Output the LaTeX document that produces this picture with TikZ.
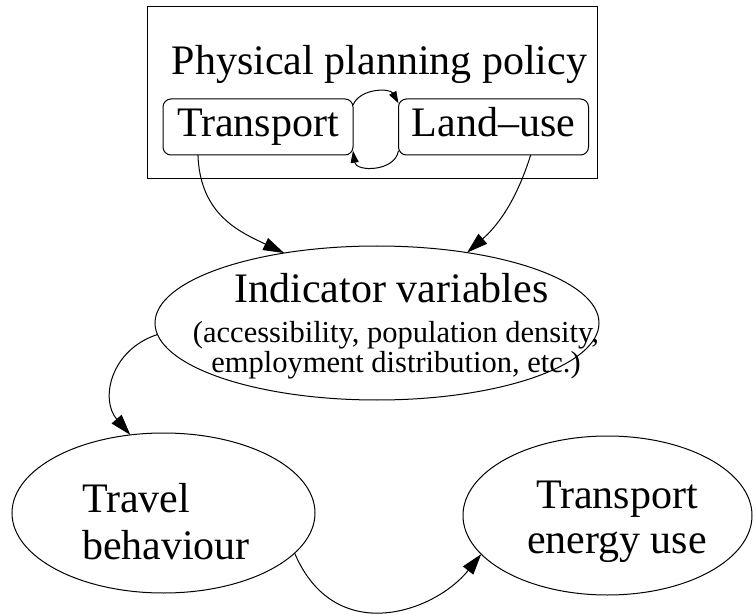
\documentclass[tikz,border=0pt]{standalone}
\usepackage{fontspec}
\setmainfont{Liberation Serif}
\usetikzlibrary{arrows.meta,shapes.geometric}
\begin{document}
\begin{tikzpicture}[x=1pt,y=-1pt,
  every node/.style={inner sep=0pt, outer sep=0pt},
  frame/.style={draw, line width=1pt, minimum width=450pt, minimum height=172pt},
  policybox/.style={draw, line width=1pt, rounded corners=8pt, minimum width=190pt, minimum height=56pt, text height=29pt, text depth=9pt, font=\fontsize{42}{47}\selectfont},
  oval/.style={draw, ellipse, line width=1pt},
  bigtext/.style={font=\fontsize{42}{47}\selectfont},
  smalltext/.style={font=\fontsize{30.5}{30}\selectfont},
  conn/.style={line width=1pt, -{Triangle[length=21pt,width=13pt]}},
  loopconn/.style={line width=1pt, -{Triangle[length=12pt,width=8pt]}},
]
\useasboundingbox (0,0) rectangle (756,615);

% top frame
\node[frame] (policy) at (372,93) {};
\node[bigtext, anchor=base] (title) at (379.5,75) {Physical planning policy};
\node[policybox] (trans) at (258,127) {Transport};
\node[policybox] (land) at (493.5,127) {Land–use};

% indicator ellipse
\node[oval, minimum width=444pt, minimum height=154pt] (ind) at (377,323) {};
\node[bigtext, anchor=base] (indtitle) at (391.5,302) {Indicator variables};
\node[smalltext, anchor=base] (indsub) at (396,342) {\begin{tabular}[t]{@{}c@{}}(accessibility, population density,\\employment distribution, etc.)\end{tabular}};

% travel behaviour
\node[oval, minimum width=303pt, minimum height=160pt] (travel) at (163.5,513) {};
\node[bigtext, anchor=base west] (traveltext) at (82,512) {\begin{tabular}[t]{@{}l@{}}Travel\\behaviour\end{tabular}};

% transport energy use
\node[oval, minimum width=289pt, minimum height=159pt] (energy) at (607.5,515.5) {};
\node[font=\fontsize{42}{45}\selectfont, anchor=base] (energytext) at (617,508) {\begin{tabular}[t]{@{}c@{}}Transport\\energy use\end{tabular}};

% connectors
\draw[loopconn] (trans.13.6) .. controls (360,88) and (390,88) .. (land.166.3);
\draw[loopconn] (land.194.8) .. controls (395,172) and (356,172) .. (trans.-14.7);
\draw[conn] (trans.205) .. controls (200,215) and (240,232) .. (ind.143.5);
\draw[conn] (land.-37.5) .. controls (515,205) and (495,228) .. (ind.38);
\draw[conn] (ind.183) .. controls (110,350) and (100,400) .. (travel.113);
\draw[conn] (travel.-17) .. controls (335,648) and (435,612) .. (energy.197);
\end{tikzpicture}
\end{document}
